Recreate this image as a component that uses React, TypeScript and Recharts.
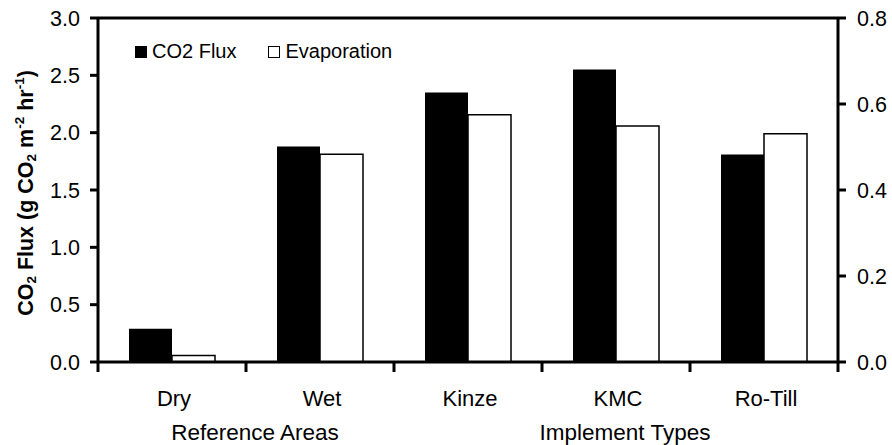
import React from "react";
import { BarChart, Bar, XAxis, YAxis, Legend, ReferenceLine } from "recharts";

const categories = ["Dry", "Wet", "Kinze", "KMC", "Ro-Till"];
const co2Flux = [0.29, 1.88, 2.35, 2.55, 1.81];
const evaporation = [0.015, 0.483, 0.575, 0.549, 0.531];
const leftTicks = [0, 0.5, 1, 1.5, 2, 2.5, 3];
const rightTicks = [0, 0.2, 0.4, 0.6, 0.8];
const groupLabels = ["Reference Areas", "Implement Types"];
const groupSizes = [2, 3];

const data = categories.map((name, i) => ({ name, co2: co2Flux[i], evap: evaporation[i] }));

// index of the first category in each group
const groupStarts = groupSizes.map((_, i) => groupSizes.slice(0, i).reduce((a, b) => a + b, 0));

const FONT = "'Liberation Sans', Arial, sans-serif";
const tickFont = { fill: "#000", fontSize: 21.5, fontFamily: FONT };

function CategoryTick(props: any) {
  const { x, y, width, visibleTicksCount, index, payload } = props;
  const band = width / visibleTicksCount;
  const left = x - band / 2;
  const g = groupStarts.indexOf(index);
  return (
    <g>
      <line x1={left} x2={left} y1={y} y2={y + 10} stroke="#000" strokeWidth={3} />
      {index === visibleTicksCount - 1 && (
        <line x1={x + band / 2} x2={x + band / 2} y1={y} y2={y + 10} stroke="#000" strokeWidth={3} />
      )}
      <text x={x + 2} y={y + 44} textAnchor="middle" fontFamily={FONT} fontSize={22} fill="#000">
        {payload.value}
      </text>
      {g >= 0 && (
        <text
          x={left + (groupSizes[g] * band) / 2 + 9}
          y={y + 78}
          textAnchor="middle"
          fontFamily={FONT}
          fontSize={22.5}
          fill="#000"
        >
          {groupLabels[g]}
        </text>
      )}
    </g>
  );
}

function YTitle(props: any) {
  const vb = props.viewBox || {};
  const cx = vb.x + 26;
  const cy = vb.y + vb.height / 2 + 3;
  return (
    <text
      x={cx}
      y={cy}
      transform={`rotate(-90 ${cx} ${cy})`}
      textAnchor="middle"
      dominantBaseline="central"
      fontFamily={FONT}
      fontWeight="bold"
      fontSize={21.5}
      fill="#000"
    >
      CO<tspan dy={5} fontSize={13.5}>2</tspan>
      <tspan dy={-5}> Flux (g CO</tspan>
      <tspan dy={5} fontSize={13.5}>2</tspan>
      <tspan dy={-5}> m</tspan>
      <tspan dy={-7} fontSize={13.5}>-2</tspan>
      <tspan dy={7}> hr</tspan>
      <tspan dy={-7} fontSize={13.5}>-1</tspan>
      <tspan dy={7}>)</tspan>
    </text>
  );
}

function LegendBox(props: any) {
  const items = props.payload || [];
  return (
    <div style={{ display: "flex", alignItems: "center", fontFamily: FONT, fontSize: 20, color: "#000" }}>
      {items.map((p: any, i: number) => (
        <div key={i} style={{ display: "flex", alignItems: "center", marginRight: 32 }}>
          <span
            style={{
              display: "inline-block",
              width: 12,
              height: 12,
              boxSizing: "border-box",
              background: i === 0 ? "#000" : "#fff",
              border: "1.5px solid #000",
              marginRight: 5,
            }}
          />
          <span>{p.value}</span>
        </div>
      ))}
    </div>
  );
}

export default function App() {
  return (
    <div style={{ position: "absolute", left: 0, top: 0, width: 892, height: 445, background: "#fff" }}>
      <BarChart
        width={892}
        height={445}
        data={data}
        margin={{ top: 18, right: 0, bottom: 0, left: 0 }}
        barCategoryGap={31}
        barGap={0}
      >
        <XAxis
          xAxisId="cat"
          dataKey="name"
          height={83}
          axisLine={{ stroke: "#000", strokeWidth: 3 }}
          tickLine={false}
          tickSize={0}
          tickMargin={0}
          tick={<CategoryTick />}
          interval={0}
        />
        <YAxis
          yAxisId="left"
          orientation="left"
          width={98}
          domain={[0, 3]}
          ticks={leftTicks}
          tickFormatter={(v: number) => v.toFixed(1)}
          tick={tickFont}
          tickSize={8}
          tickMargin={10}
          axisLine={{ stroke: "#000", strokeWidth: 3 }}
          tickLine={{ stroke: "#000", strokeWidth: 3 }}
          label={<YTitle />}
        />
        <YAxis
          yAxisId="right"
          orientation="right"
          width={54}
          domain={[0, 0.8]}
          ticks={rightTicks}
          tickFormatter={(v: number) => v.toFixed(1)}
          tick={tickFont}
          tickSize={8}
          tickMargin={11}
          axisLine={{ stroke: "#000", strokeWidth: 3 }}
          tickLine={{ stroke: "#000", strokeWidth: 3 }}
        />
        <ReferenceLine yAxisId="left" xAxisId="cat" y={3} stroke="#000" strokeWidth={3} />
        <Legend
          layout="horizontal"
          verticalAlign="middle"
          align="center"
          content={<LegendBox />}
          wrapperStyle={{ position: "absolute", left: 135, top: 40, width: "auto" }}
        />
        <Bar
          xAxisId="cat"
          yAxisId="left"
          dataKey="co2"
          name="CO2 Flux"
          fill="#000"
          isAnimationActive={false}
        />
        <Bar
          xAxisId="cat"
          yAxisId="right"
          dataKey="evap"
          name="Evaporation"
          fill="#fff"
          stroke="#000"
          strokeWidth={1.5}
          isAnimationActive={false}
        />
      </BarChart>
    </div>
  );
}
